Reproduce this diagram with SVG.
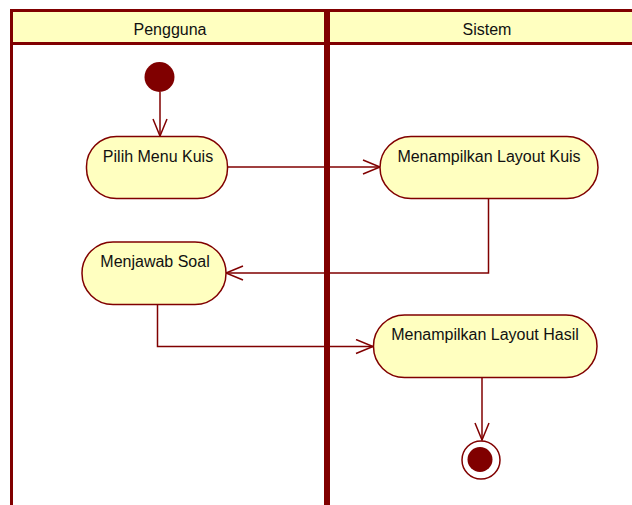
<svg xmlns="http://www.w3.org/2000/svg" width="632" height="505" viewBox="0 0 632 505">
<style>
.lane{fill:none;stroke:#800000;stroke-width:3}
.hdr{fill:#FFFFC0;stroke:#800000;stroke-width:3}
.act{fill:#FFFFC0;stroke:#800000;stroke-width:1.5}
.t{font-family:"Liberation Sans",Arial,sans-serif;font-size:16px;fill:#111;text-anchor:middle}
.c{fill:none;stroke:#800000;stroke-width:1.5}
</style>
<defs>
<marker id="arr" viewBox="0 0 20 16" refX="18" refY="8" markerWidth="20" markerHeight="16" markerUnits="userSpaceOnUse" orient="auto">
<path d="M1,1 L18,8 L1,15" fill="none" stroke="#800000" stroke-width="1.5"/>
</marker>
</defs>
<g id="lane-pengguna">
<rect class="hdr" x="11.5" y="10.5" width="314" height="33"/>
<line class="lane" x1="11.5" y1="43.5" x2="11.5" y2="510"/>
<line class="lane" x1="325.5" y1="43.5" x2="325.5" y2="510"/>
<text class="t" x="170" y="35">Pengguna</text>
</g>
<g id="lane-sistem">
<rect class="hdr" x="328.5" y="10.5" width="320" height="33"/>
<line class="lane" x1="328.5" y1="43.5" x2="328.5" y2="510"/>
<text class="t" x="487" y="35">Sistem</text>
</g>
<g id="connectors">
<line class="c" x1="160" y1="92" x2="160" y2="136" marker-end="url(#arr)"/>
<line class="c" x1="228" y1="167" x2="380" y2="167" marker-end="url(#arr)"/>
<polyline class="c" points="488.5,199 488.5,273 226,273" marker-end="url(#arr)"/>
<polyline class="c" points="157.5,305 157.5,346.5 373,346.5" marker-end="url(#arr)"/>
<line class="c" x1="482" y1="378" x2="482" y2="440" marker-end="url(#arr)"/>
</g>
<g id="start">
<circle cx="159.5" cy="77" r="15" fill="#800000"/>
</g>
<g id="pilih-menu-kuis">
<rect class="act" x="86.5" y="136.5" width="141" height="62" rx="30" ry="30"/>
<text class="t" x="158" y="162">Pilih Menu Kuis</text>
</g>
<g id="menampilkan-layout-kuis">
<rect class="act" x="380" y="136.5" width="218" height="62" rx="31" ry="31"/>
<text class="t" x="489" y="162">Menampilkan Layout Kuis</text>
</g>
<g id="menjawab-soal">
<rect class="act" x="82" y="242" width="144" height="62.5" rx="31" ry="31"/>
<text class="t" x="155" y="267">Menjawab Soal</text>
</g>
<g id="menampilkan-layout-hasil">
<rect class="act" x="373.5" y="315" width="223.5" height="62.5" rx="31" ry="31"/>
<text class="t" x="485" y="340">Menampilkan Layout Hasil</text>
</g>
<g id="end">
<circle cx="481" cy="460" r="19" fill="#fff" stroke="#800000" stroke-width="1.5"/>
<circle cx="480" cy="459.5" r="12.5" fill="#800000"/>
</g>
</svg>
